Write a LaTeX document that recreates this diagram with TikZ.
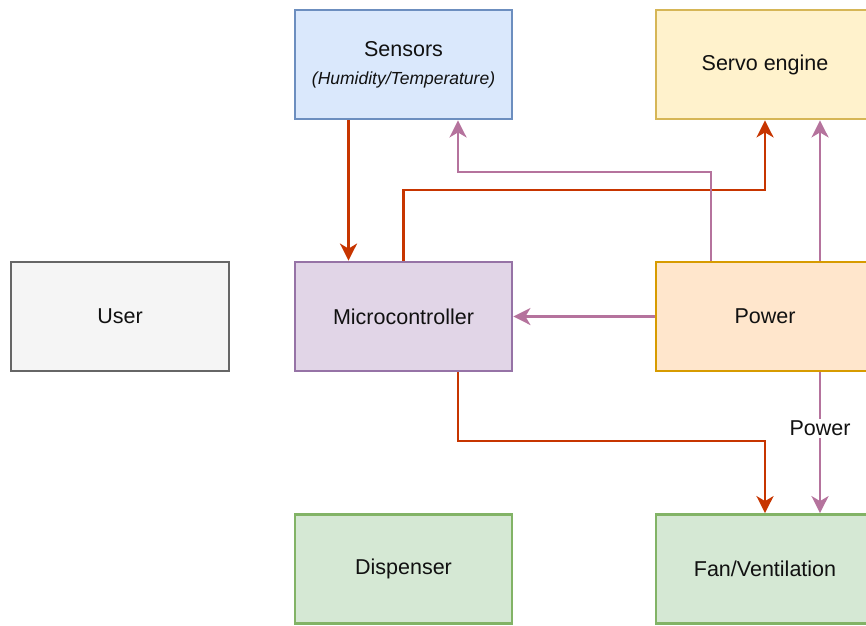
\documentclass[tikz,border=0pt]{standalone}
\usepackage{fontspec}
\setmainfont{Liberation Sans}
\usetikzlibrary{arrows.meta,positioning,calc}

\definecolor{blueFill}{HTML}{DAE8FC}\definecolor{blueLine}{HTML}{6C8EBF}
\definecolor{yellowFill}{HTML}{FFF2CC}\definecolor{yellowLine}{HTML}{D6B656}
\definecolor{greyFill}{HTML}{F5F5F5}\definecolor{greyLine}{HTML}{666666}
\definecolor{purpleFill}{HTML}{E1D5E7}\definecolor{purpleLine}{HTML}{9673A6}
\definecolor{orangeFill}{HTML}{FFE6CC}\definecolor{orangeLine}{HTML}{D79B00}
\definecolor{greenFill}{HTML}{D5E8D4}\definecolor{greenLine}{HTML}{82B366}
\definecolor{ctrlWire}{HTML}{C73500}
\definecolor{powerWire}{HTML}{B5739D}
\definecolor{txt}{HTML}{111111}

\tikzset{
  block/.style={draw, line width=2.8pt, minimum width=217pt, minimum height=109pt,
    inner sep=0pt, align=center, text=txt, font=\fontsize{21.5}{26}\selectfont},
  ctrl/.style={draw=ctrlWire, line width=2.8pt, -{Stealth[length=17pt,width=17pt,inset=5pt]}},
  pwr/.style={draw=powerWire, line width=2.8pt, -{Stealth[length=17pt,width=17pt,inset=5pt]}},
}

\begin{document}
\begin{tikzpicture}[x=1pt,y=-1pt]
  \useasboundingbox (0,0) rectangle (866,625);
  \clip (0,0) rectangle (866,625);

  % blocks
  \node[block, fill=blueFill, draw=blueLine] (sens) at (403.5,64.5)
    {Sensors\\[2pt]{\fontsize{17.5}{21}\selectfont\itshape (Humidity/Temperature)}};
  \node[block, fill=yellowFill, draw=yellowLine, minimum width=218pt] (serv) at (765,64.5) {Servo engine};
  \node[block, fill=greyFill, draw=greyLine, minimum width=218pt] (user) at (120,316.5) {User};
  \node[block, fill=purpleFill, draw=purpleLine] (micro) at (403.5,316.5) {Microcontroller};
  \node[block, fill=orangeFill, draw=orangeLine, minimum width=218pt] (pow) at (765,316.5) {Power};
  \node[block, fill=greenFill, draw=greenLine] (disp) at (403.5,569) {Dispenser};
  \node[block, fill=greenFill, draw=greenLine, minimum width=218pt] (fan) at (765,569) {Fan/Ventilation};

  % routing levels
  \coordinate (lvlServo) at (0,190);
  \coordinate (lvlSens) at (0,172);
  \coordinate (lvlFan) at (0,441);

  % control signals
  \draw[ctrl] ([xshift=-55pt]sens.south) -- ([xshift=-55pt]micro.north);
  \draw[ctrl] (micro.north) -- (micro.north |- lvlServo) -| (serv.south);
  \draw[ctrl] ([xshift=54.5pt]micro.south) -- ([xshift=54.5pt]micro.south |- lvlFan) -| (fan.north);

  % power distribution
  \draw[pwr] ([xshift=-54pt]pow.north) -- ([xshift=-54pt]pow.north |- lvlSens) -| ([xshift=54.5pt]sens.south);
  \draw[pwr] ([xshift=55pt]pow.north) -- ([xshift=55pt]serv.south);
  \draw[pwr] (pow.west) -- (micro.east);
  \draw[pwr] ([xshift=55pt]pow.south) -- node[pos=0.4, fill=white, inner sep=2pt, text=txt,
    font=\fontsize{21.5}{26}\selectfont] (pwrlabel) {Power} ([xshift=55pt]fan.north);
\end{tikzpicture}
\end{document}
